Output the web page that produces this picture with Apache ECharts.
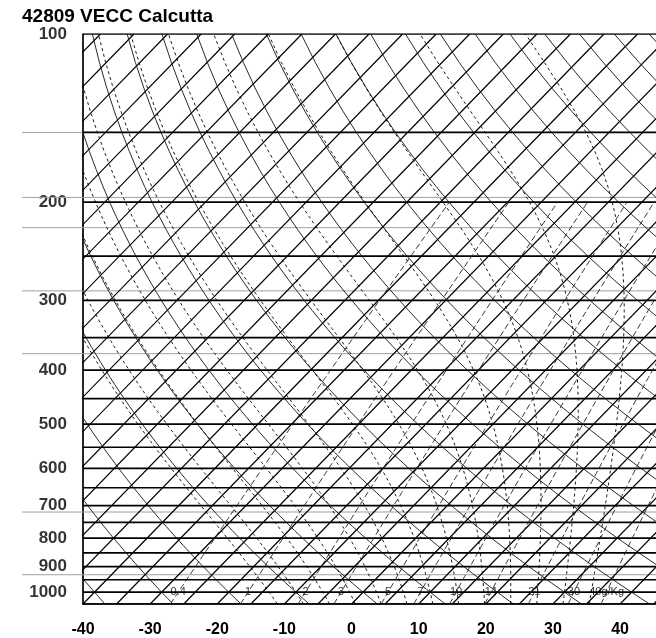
<!DOCTYPE html>
<html><head><meta charset="utf-8">
<script src="https://cdn.jsdelivr.net/npm/echarts@6/dist/echarts.min.js"></script>
<style>html,body{margin:0;padding:0;background:#fff}#c{width:656px;height:638px}</style>
</head><body><div id="c"></div>
<script>
// ---- chart values ----
const chartTitle = '42809 VECC Calcutta';
const tempTicks = [-40, -30, -20, -10, 0, 10, 20, 30, 40];
const pressureLabels = [100, 200, 300, 400, 500, 600, 700, 800, 900, 1000];
const isobars = [100,150,200,250,300,350,400,450,500,550,600,650,700,750,800,850,900,950,1000,1050];
const isotherms = [-125,-120,-115,-110,-105,-100,-95,-90,-85,-80,-75,-70,-65,-60,-55,-50,-45,-40,-35,-30,-25,-20,-15,-10,-5,0,5,10,15,20,25,30,35,40,45];
const dryAdiabatsT1000 = [-50,-40,-30,-20,-10,0,10,20,30,40,50,60,70,80,90,100,110,120,130,140,150,160,170,180,190];
const moistAdiabatsT1000 = [-14,-10,-6,-2,2,6,10,14,18,22,26,30,34];
const mixingRatios = [0.4, 1, 2, 3, 5, 7, 10, 14, 21, 30, 40];
const mixingLabels = ['0.4', '1', '2', '3', '5', '7', '10', '14', '21', '30', '40g/Kg'];
const greyLevels = [150, 196, 222, 288, 373, 716, 927];

// ---- diagram geometry ----
const P_TOP = 100, P_BOT = 1050;
const X_MIN = -40, X_MAX = 45.35;
const G = {left: 83, top: 34, width: 590, height: 571};
const SKEW = (X_MAX - X_MIN) / G.width * G.height / Math.log(P_BOT / P_TOP); // 45 degree isotherms

const levels = [];
for (let p = P_BOT; p >= P_TOP - 0.01; p -= 12.5) levels.push(p);

function skewX(tC, p) { return tC + SKEW * Math.log(P_BOT / p); }

const Rd = 287.04, cp = 1005.7, Lv = 2.501e6, eps = 0.622;
function es(tC) { return 6.112 * Math.exp(17.67 * tC / (tC + 243.5)); }
function dTdp(T, p) {
  const e = es(T - 273.15), rs = eps * e / (p - e);
  return ((Rd * T + Lv * rs) / p) / (cp + Lv * Lv * rs * eps / (Rd * T * T));
}
function moistT(t1000, p) {
  let T = t1000 + 273.15, pc = 1000;
  const n = 80, h = (p - 1000) / n;
  for (let i = 0; i < n; i++) {
    const k1 = dTdp(T, pc), k2 = dTdp(T + k1 * h / 2, pc + h / 2),
          k3 = dTdp(T + k2 * h / 2, pc + h / 2), k4 = dTdp(T + k3 * h, pc + h);
    T += h * (k1 + 2 * k2 + 2 * k3 + k4) / 6; pc += h;
  }
  return T - 273.15;
}
function mixTd(w, p) {
  const e = w * p / (622 + w), l = Math.log(e / 6.112);
  return 243.5 * l / (17.67 - l);
}

const series = [];
function addLine(data, style, xi) {
  series.push({type: 'line', data, xAxisIndex: xi || 0, yAxisIndex: xi || 0, showSymbol: false,
    symbol: 'none', silent: true, clip: true, lineStyle: style, animation: false});
}
// grey overlay levels, reaching out to the left margin
greyLevels.forEach(p => addLine([[0, p], [1, p]], {color: '#a0a0a0', width: 1}, 1));
// isobars
isobars.forEach(p => addLine([[X_MIN, p], [X_MAX, p]], {color: '#000', width: 1.7}));
// isotherms
isotherms.forEach(t => addLine([[skewX(t, P_BOT), P_BOT], [skewX(t, P_TOP), P_TOP]], {color: '#000', width: 1.2}));
// dry adiabats
dryAdiabatsT1000.forEach(t => {
  const th = t + 273.15;
  addLine(levels.map(p => [skewX(th * Math.pow(p / 1000, Rd / cp) - 273.15, p), p]), {color: '#111', width: 0.9});
});
// moist adiabats
moistAdiabatsT1000.forEach(t => {
  addLine(levels.map(p => [skewX(moistT(t, p), p), p]), {color: '#000', width: 0.9, type: [3, 3]});
});
// mixing ratio lines
const mixLevels = levels.filter(p => p >= 200);
mixingRatios.forEach(w => {
  addLine(mixLevels.map(p => [skewX(mixTd(w, p), p), p]), {color: '#222', width: 0.9, type: [6, 3]});
});
// mixing ratio labels at 1000 hPa
series.push({type: 'scatter', symbolSize: 0, silent: true, clip: false, animation: false,
  data: mixingRatios.map((w, i) => ({value: [skewX(mixTd(w, 1000), 1000), 1000], name: mixingLabels[i]})),
  label: {show: true, position: 'inside', formatter: d => d.name, fontSize: 11,
    fontFamily: 'Liberation Sans', color: '#000'}});
// pressure labels
series.push({type: 'scatter', symbolSize: 0, silent: true, clip: false, animation: false,
  data: pressureLabels.map(p => [X_MIN, p]),
  label: {show: true, position: 'left', distance: 16, formatter: d => String(d.value[1]),
    fontSize: 17, fontWeight: 'bold', fontFamily: 'Liberation Sans', color: '#000'}});

const chart = echarts.init(document.getElementById('c'), null, {renderer: 'canvas'});
chart.setOption({
  animation: false,
  backgroundColor: '#fff',
  title: {text: chartTitle, left: 22, top: 7, padding: 0,
    textStyle: {fontSize: 19, fontWeight: 'bold', fontFamily: 'Liberation Sans', color: '#000'}},
  grid: [
    {left: G.left, top: G.top, width: G.width, height: G.height, containLabel: false},
    {left: 22, top: G.top, width: 660, height: G.height, containLabel: false}
  ],
  xAxis: [
    {type: 'value', gridIndex: 0, min: X_MIN, max: X_MAX, interval: 10,
      axisLine: {show: true, onZero: false, lineStyle: {color: '#000', width: 1.7}},
      axisTick: {show: false}, splitLine: {show: false},
      axisLabel: {margin: 18, fontSize: 16, fontWeight: 'bold', fontFamily: 'Liberation Sans', color: '#000',
        showMaxLabel: false,
        formatter: v => (tempTicks.indexOf(v) >= 0 ? String(v) : '')}},
    {type: 'value', gridIndex: 1, min: 0, max: 1, show: false}
  ],
  yAxis: [
    {type: 'log', logBase: 10, gridIndex: 0, min: P_TOP, max: P_BOT, inverse: true,
      axisLine: {show: true, onZero: false, lineStyle: {color: '#000', width: 1.7}},
      axisTick: {show: false}, splitLine: {show: false}, axisLabel: {show: false}},
    {type: 'log', logBase: 10, gridIndex: 1, min: P_TOP, max: P_BOT, inverse: true, show: false}
  ],
  series
});
</script></body></html>
